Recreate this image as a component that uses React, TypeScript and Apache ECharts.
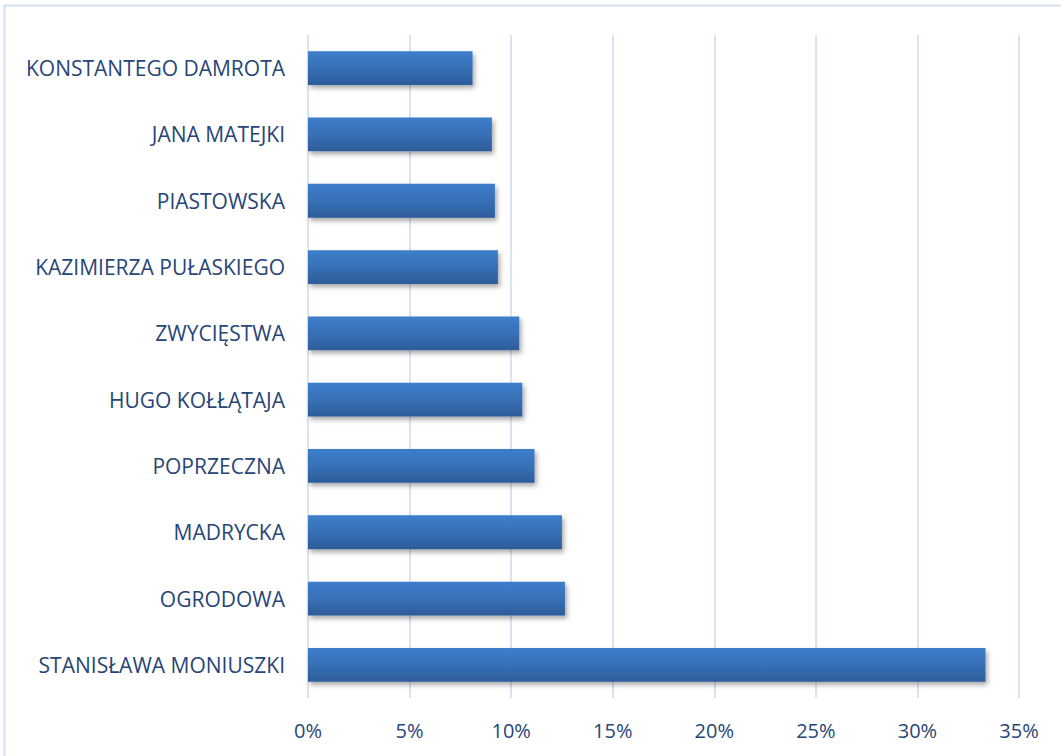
import React, { useEffect, useRef } from "react";
import * as echarts from "echarts";

const categories = [
  "KONSTANTEGO DAMROTA",
  "JANA MATEJKI",
  "PIASTOWSKA",
  "KAZIMIERZA PUŁASKIEGO",
  "ZWYCIĘSTWA",
  "HUGO KOŁŁĄTAJA",
  "POPRZECZNA",
  "MADRYCKA",
  "OGRODOWA",
  "STANISŁAWA MONIUSZKI",
];
const values = [8.1, 9.05, 9.2, 9.35, 10.4, 10.55, 11.15, 12.5, 12.65, 33.35];
const xTicksMax = 35;
const xTickStep = 5;

const labelColor = "#274677";
const fontFamily = "'Open Sans', 'Noto Sans', sans-serif";

export default function App() {
  const ref = useRef<HTMLDivElement>(null);
  useEffect(() => {
    if (!ref.current) return;
    const chart = echarts.init(ref.current, null, { renderer: "svg" });
    chart.setOption({
      animation: false,
      backgroundColor: "#ffffff",
      graphic: [
        {
          type: "rect",
          shape: { x: 4.5, y: 5.5, width: 1100, height: 800 },
          style: { fill: "none", stroke: "#D5E1F1", lineWidth: 2 },
          silent: true,
        },
      ],
      grid: { left: 308, right: 42, top: 35, bottom: 58, containLabel: false },
      xAxis: {
        type: "value",
        min: 0,
        max: xTicksMax,
        interval: xTickStep,
        axisLine: { show: false },
        axisTick: { show: false },
        splitLine: { show: true, lineStyle: { color: "#D9E4F2", width: 2 } },
        axisLabel: {
          formatter: (v: number) => `${v}%`,
          color: labelColor,
          fontSize: 20,
          fontFamily,
          margin: 22,
        },
      },
      yAxis: {
        type: "category",
        data: categories,
        inverse: true,
        axisLine: { show: false },
        axisTick: { show: false },
        splitLine: { show: false },
        axisLabel: {
          color: labelColor,
          fontSize: 21,
          fontFamily,
          margin: 23,
        },
      },
      series: [
        {
          type: "bar",
          data: values,
          barCategoryGap: "49%",
          itemStyle: {
            color: new echarts.graphic.LinearGradient(0, 0, 0, 1, [
              { offset: 0, color: "#3D7ECC" },
              { offset: 0.5, color: "#3770B6" },
              { offset: 1, color: "#2D5C99" },
            ]),
            shadowColor: "rgba(0,0,0,0.35)",
            shadowBlur: 5,
            shadowOffsetX: 2,
            shadowOffsetY: 3,
          },
        },
      ],
    });
    return () => chart.dispose();
  }, []);
  return (
    <div
      ref={ref}
      style={{ position: "fixed", left: 0, top: 0, width: 1061, height: 756 }}
    />
  );
}
